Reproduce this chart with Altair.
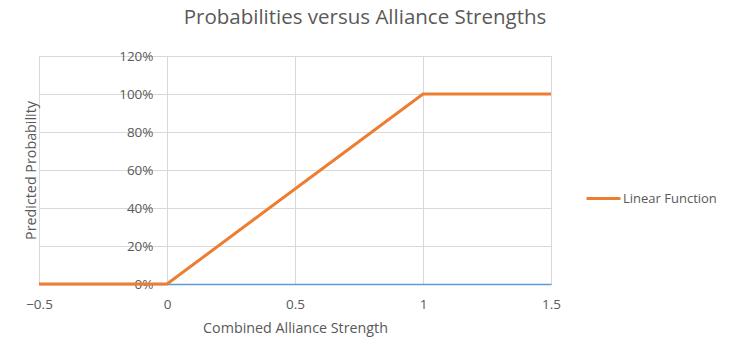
import altair as alt
import pandas as pd

x_vals = [-0.5, 0.0, 1.0, 1.5]
y_vals = [0.0, 0.0, 1.0, 1.0]
series = ["Linear Function"] * 4

df = pd.DataFrame({"strength": x_vals, "prob": y_vals, "series": series})

FONT = "Open Sans"
GRAY = "#595959"

chart = alt.Chart(df).mark_line(strokeWidth=3, color="#ED7D31").encode(
    x=alt.X("strength:Q",
            scale=alt.Scale(domain=[-0.5, 1.5], nice=False, zero=False),
            axis=alt.Axis(values=[-0.5, 0, 0.5, 1, 1.5], format="~g",
                          title="Combined Alliance Strength",
                          domainColor="#5B9BD5", domainWidth=1.3,
                          ticks=False, labelPadding=13, titlePadding=11,
                          gridColor="#D9D9D9", labelFlush=False)),
    y=alt.Y("prob:Q",
            scale=alt.Scale(domain=[0, 1.2], nice=False),
            axis=alt.Axis(values=[0, 0.2, 0.4, 0.6, 0.8, 1.0, 1.2], format=".0%",
                          title="Predicted Probability", offset=-128,
                          domain=False, ticks=False, labelPadding=14,
                          gridColor="#D9D9D9",
                          titleX=-129, titleY=114, titleAngle=-90,
                          titleAlign="center", titleBaseline="bottom")),
    color=alt.Color("series:N", scale=alt.Scale(range=["#ED7D31"]),
                    legend=alt.Legend(title=None, orient="none", legendX=546, legendY=124,
                                      symbolType="stroke", symbolStrokeWidth=3,
                                      symbolSize=1150, labelFontSize=13, labelColor=GRAY,
                                      labelFont=FONT, labelOffset=1)),
).properties(
    width=512, height=228,
    autosize="none",
    padding={"left": 39, "top": 56, "right": 180, "bottom": 70},
    title=alt.TitleParams("Probabilities versus Alliance Strengths", fontSize=20.5,
                          font=FONT, fontWeight="normal", color=GRAY,
                          anchor="middle", dx=70, offset=21),
).configure_axis(
    labelFont=FONT, titleFont=FONT, labelFontSize=13.5, titleFontSize=14.3,
    labelColor=GRAY, titleColor=GRAY, titleFontWeight="normal",
).configure_view(stroke="#D9D9D9")

chart.save("out.html", embed_options={"renderer": "svg", "actions": False})
